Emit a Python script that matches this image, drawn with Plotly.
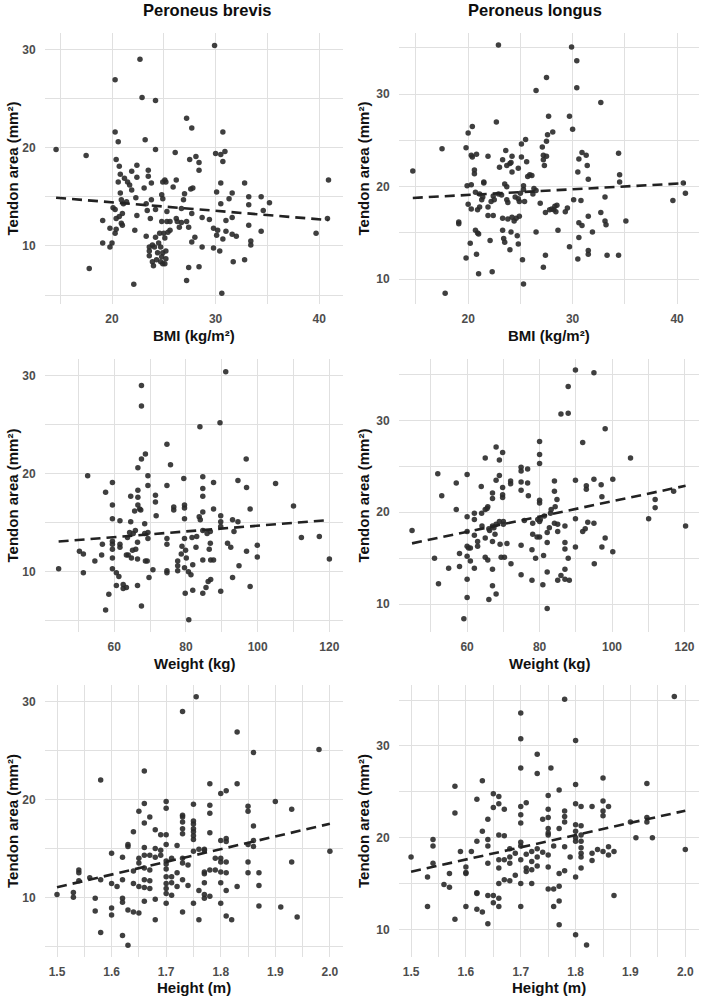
import numpy as np
import plotly.graph_objects as go

# ---------------- data (x, tendon area mm²) ----------------
bmi_brevis = [(14.6,19.8),(17.5,19.2),(17.8,7.7),(19.1,12.6),(19.1,10.3),(19.8,11.8),(19.8,9.9),(20.0,10.3),(20.3,26.9),(20.3,21.6),(20.4,18.8),(20.6,20.6),(20.1,13.9),(20.3,13.7),(20.4,12.8),(20.3,11.3),(20.4,11.7),(20.6,16.5),(20.7,18.1),(20.8,17.3),(20.8,15.4),(20.9,14.7),(21.0,13.3),(20.7,13.0),(20.9,12.3),(21.0,12.1),(21.2,16.9),(21.1,14.3),(21.4,14.5),(21.5,16.5),(21.7,16.2),(21.9,17.6),(21.9,15.7),(22.1,6.1),(22.2,11.6),(22.3,14.9),(22.4,18.2),(22.4,17.0),(22.4,13.1),(22.7,29.0),(22.9,25.1),(23.2,20.8),(23.1,15.9),(23.3,11.0),(23.3,14.3),(23.4,13.6),(23.5,17.7),(23.5,17.1),(23.6,9.9),(23.6,9.0),(23.6,9.5),(23.7,12.8),(23.8,14.7),(23.8,16.4),(23.9,8.4),(24.0,8.0),(23.9,10.1),(24.1,9.9),(24.2,19.8),(24.2,24.8),(24.2,13.7),(24.2,10.9),(24.3,8.6),(24.4,9.3),(24.5,10.3),(24.6,11.3),(24.7,9.9),(24.8,8.9),(24.7,8.4),(24.9,8.2),(24.9,9.3),(24.8,15.2),(24.9,14.8),(24.8,12.5),(24.9,16.5),(25.1,16.7),(25.2,16.5),(25.0,11.3),(25.1,10.8),(25.1,8.2),(25.2,8.7),(25.2,9.5),(25.3,13.5),(25.3,12.5),(25.4,11.4),(25.6,12.5),(25.6,11.6),(25.9,16.0),(26.1,19.5),(26.2,16.7),(26.2,12.8),(26.3,12.5),(26.5,11.9),(26.7,12.4),(26.7,13.8),(26.9,14.7),(27.0,15.3),(27.2,23.0),(27.2,12.5),(27.2,6.5),(27.4,7.8),(27.4,11.9),(27.5,18.8),(27.7,22.0),(27.6,15.8),(27.7,13.3),(27.7,10.4),(27.8,15.9),(28.0,10.9),(28.1,19.1),(28.4,18.5),(28.4,17.7),(28.4,7.9),(28.7,12.9),(28.7,9.9),(29.4,12.7),(29.8,11.8),(29.8,9.8),(29.9,30.4),(30.0,19.4),(30.1,15.5),(30.1,11.1),(30.2,11.6),(30.4,9.5),(30.5,16.4),(30.5,14.3),(30.5,19.3),(30.6,5.2),(30.7,21.6),(30.7,18.6),(30.7,10.7),(30.9,19.6),(31.0,12.6),(31.0,11.5),(31.3,14.8),(31.6,15.4),(31.6,12.9),(31.6,11.2),(31.7,8.4),(32.0,11.0),(32.8,16.4),(32.8,8.6),(33.2,15.0),(33.2,14.2),(33.2,12.1),(33.4,10.5),(33.4,10.1),(34.4,15.0),(34.4,11.5),(34.6,13.6),(35.2,14.4),(39.7,11.3),(40.9,16.7),(40.8,12.8)]

bmi_longus = [(14.7,21.7),(17.5,24.1),(17.8,8.5),(19.1,16.2),(19.1,16.0),(19.8,12.3),(19.8,24.2),(20.0,25.8),(19.9,20.1),(20.0,18.1),(20.2,13.9),(20.3,20.2),(20.4,26.5),(20.3,23.4),(20.4,23.2),(20.3,17.6),(20.6,21.8),(20.6,21.4),(20.7,19.4),(20.7,15.3),(20.8,23.5),(20.8,12.7),(20.9,15.0),(21.0,14.9),(20.9,17.5),(21.0,10.6),(21.1,17.8),(21.1,19.2),(21.3,18.6),(21.4,18.9),(21.5,20.5),(21.5,20.4),(21.9,16.9),(21.9,23.3),(21.9,17.8),(22.1,14.2),(22.2,18.4),(22.3,10.8),(22.4,16.9),(22.4,19.0),(22.5,18.6),(22.7,27.0),(22.9,35.3),(22.9,19.2),(23.0,22.1),(23.2,19.1),(23.3,22.9),(23.3,16.6),(23.3,15.3),(23.4,14.4),(23.5,14.0),(23.5,20.3),(23.6,23.9),(23.7,22.3),(23.7,18.6),(23.7,20.0),(23.8,16.5),(23.8,18.3),(24.0,13.2),(24.0,22.5),(24.1,22.6),(24.1,15.1),(24.2,23.3),(24.2,21.6),(24.2,16.7),(24.4,16.3),(24.5,18.9),(24.6,16.6),(24.7,14.7),(24.8,13.8),(24.8,22.0),(24.8,18.7),(24.9,18.4),(24.9,16.8),(25.0,19.3),(25.1,24.6),(25.1,23.2),(25.2,12.1),(25.3,9.5),(25.3,20.1),(25.3,19.7),(25.4,18.4),(25.5,25.1),(25.6,22.7),(25.7,21.1),(25.9,21.3),(26.1,21.2),(26.2,19.2),(26.3,19.8),(26.5,30.4),(26.5,19.6),(26.5,15.1),(26.9,18.2),(27.1,24.3),(27.2,23.4),(27.2,22.9),(27.3,22.3),(27.2,11.3),(27.4,17.2),(27.4,12.6),(27.5,24.9),(27.5,23.3),(27.5,31.8),(27.6,25.6),(27.7,27.6),(27.8,17.5),(28.0,17.6),(28.1,25.9),(28.2,17.5),(28.3,17.9),(28.4,17.3),(28.5,18.0),(28.6,15.3),(29.3,17.3),(29.5,17.7),(29.7,13.5),(29.7,27.6),(29.9,35.1),(30.0,26.2),(30.1,18.6),(30.4,33.6),(30.4,30.7),(30.5,12.2),(30.5,21.6),(30.6,23.0),(30.6,16.1),(30.6,14.5),(30.8,18.5),(30.9,15.8),(30.9,23.7),(31.3,23.4),(31.4,22.3),(31.5,20.8),(31.5,16.8),(31.5,13.1),(31.5,12.7),(31.9,15.1),(32.7,29.1),(32.7,17.2),(33.1,18.9),(33.1,16.3),(33.2,15.9),(33.3,12.6),(34.4,23.6),(34.4,12.6),(34.5,21.3),(34.5,20.5),(35.1,16.3),(39.6,18.5),(40.6,20.4),(40.8,19.3)]

weight_brevis = [(44.5,10.3),(50.3,12.1),(51.4,11.8),(51.4,9.9),(52.6,19.8),(54.6,11.1),(56.5,11.7),(56.7,12.8),(57.6,18.1),(57.6,6.1),(58.5,7.7),(59.5,19.1),(59.5,16.8),(59.5,15.4),(59.5,13.1),(59.5,12.8),(59.5,12.3),(59.5,11.4),(59.5,10.3),(60.6,9.9),(60.6,8.6),(61.3,9.5),(61.6,15.2),(61.6,12.5),(61.6,12.8),(62.5,8.7),(62.5,8.3),(63.4,8.4),(63.4,11.7),(63.7,13.5),(63.9,11.7),(64.3,14.0),(64.6,17.7),(64.6,15.1),(64.8,11.4),(65.1,12.2),(65.3,13.9),(65.7,16.2),(65.9,14.2),(66.0,12.3),(66.5,13.0),(66.5,8.6),(66.5,11.3),(66.6,20.6),(66.6,18.3),(66.6,17.6),(66.6,16.8),(67.1,16.4),(67.4,16.3),(67.6,29.0),(67.6,26.9),(67.6,21.5),(67.6,6.5),(68.7,22.0),(68.5,14.9),(68.5,13.9),(68.7,11.1),(69.2,11.1),(69.4,19.8),(69.4,18.8),(69.4,14.0),(69.4,13.4),(69.7,9.4),(70.8,10.2),(71.5,17.8),(71.5,17.1),(71.7,15.7),(74.7,23.0),(74.7,18.8),(74.7,13.4),(74.7,12.8),(74.7,10.1),(74.7,9.9),(75.7,20.9),(76.6,16.6),(76.6,16.3),(77.7,11.1),(77.7,10.6),(77.7,10.1),(78.7,11.8),(78.9,12.6),(79.4,19.5),(79.6,16.8),(79.6,16.5),(79.6,15.4),(79.6,13.4),(79.6,10.4),(79.8,7.8),(79.9,12.2),(80.1,11.4),(80.7,10.0),(80.8,5.1),(81.4,9.7),(81.7,13.5),(81.9,10.7),(81.9,8.1),(82.8,12.5),(83.0,13.6),(83.7,15.6),(83.9,24.8),(84.0,15.3),(84.7,14.2),(84.7,11.2),(84.7,7.8),(84.7,19.7),(84.7,18.5),(84.7,17.7),(84.7,16.1),(85.6,8.4),(85.9,13.9),(86.2,9.0),(86.5,12.3),(86.8,14.1),(86.8,12.9),(86.9,11.2),(86.9,9.2),(87.7,19.1),(87.7,16.4),(87.7,11.2),(89.5,25.2),(89.7,15.7),(89.7,15.1),(89.7,14.6),(89.7,8.0),(91.1,30.4),(91.6,12.9),(92.5,12.5),(93.0,15.3),(93.0,9.4),(93.4,14.1),(94.5,19.3),(94.5,15.1),(94.8,10.6),(96.8,21.5),(96.9,18.6),(96.9,12.1),(97.9,16.4),(97.9,8.5),(99.9,12.7),(99.9,11.5),(105.0,19.0),(110.0,16.7),(112.2,13.5),(117.2,13.6),(120.0,11.3)]

weight_longus = [(44.8,18.0),(51.0,15.0),(51.9,24.2),(52.1,12.2),(53.0,21.8),(54.9,13.9),(57.0,23.2),(57.0,20.3),(57.9,15.5),(57.9,14.1),(59.1,8.4),(60.0,24.1),(60.0,19.5),(60.0,17.9),(60.0,16.3),(60.0,15.2),(60.0,12.7),(60.0,10.7),(60.4,16.1),(60.9,16.1),(60.9,14.7),(62.0,19.9),(62.0,19.2),(62.0,17.5),(62.0,13.9),(62.9,16.8),(62.9,16.3),(63.9,22.8),(64.0,19.9),(64.1,18.5),(65.0,25.9),(65.0,20.3),(65.0,17.2),(65.0,15.1),(65.5,20.4),(65.7,20.6),(65.7,14.8),(66.0,10.5),(66.0,18.2),(66.2,18.0),(67.0,22.1),(67.0,21.5),(67.0,18.5),(67.0,16.8),(67.0,13.8),(67.0,12.0),(67.4,18.3),(67.7,17.6),(68.0,27.1),(68.0,23.5),(68.0,11.1),(68.0,18.7),(68.9,25.7),(68.9,24.0),(68.9,19.0),(69.1,16.5),(69.4,15.1),(69.8,26.5),(69.8,22.7),(69.8,21.9),(69.8,21.6),(70.0,19.0),(70.0,18.7),(70.3,15.1),(71.0,16.6),(72.0,23.4),(72.0,23.1),(72.1,14.4),(74.9,24.9),(74.9,24.5),(74.9,23.3),(74.9,22.4),(74.9,16.4),(74.9,13.2),(75.8,19.1),(76.7,24.7),(76.7,23.2),(76.9,21.8),(77.9,15.9),(77.9,12.6),(78.1,17.6),(78.1,18.8),(78.9,15.0),(79.3,17.3),(79.5,19.2),(80.0,27.7),(80.0,26.3),(80.0,25.3),(80.0,21.3),(80.0,21.0),(80.0,19.0),(80.0,17.3),(80.2,19.2),(80.9,12.1),(81.1,15.3),(81.3,19.6),(82.1,9.5),(82.1,16.7),(82.1,17.8),(82.1,13.5),(82.7,18.3),(83.0,19.9),(83.2,20.3),(84.1,23.4),(84.1,22.3),(84.1,18.8),(84.3,20.6),(84.8,21.4),(85.0,18.7),(85.0,17.9),(85.0,12.6),(85.9,13.1),(85.9,30.7),(87.0,16.7),(87.0,16.0),(87.0,13.8),(87.0,12.7),(87.0,18.5),(87.9,30.8),(87.9,33.7),(87.9,15.0),(88.2,12.6),(89.9,35.5),(89.9,23.5),(89.9,19.3),(89.9,16.2),(91.9,27.6),(91.9,17.9),(92.6,18.2),(92.9,22.9),(92.9,22.5),(93.3,18.9),(95.0,35.2),(95.0,23.6),(95.0,18.8),(95.1,14.4),(97.0,23.0),(97.2,21.7),(97.2,16.2),(98.1,17.2),(98.1,29.1),(100.2,23.6),(100.2,15.7),(105.1,25.9),(110.1,19.3),(111.9,21.4),(111.9,20.5),(117.0,22.3),(120.3,18.5)]

height_brevis = [(1.50,10.3),(1.53,10.5),(1.53,10.0),(1.54,12.8),(1.54,12.5),(1.54,11.7),(1.56,12.0),(1.57,9.9),(1.57,8.6),(1.58,22.0),(1.58,11.8),(1.58,6.4),(1.60,14.5),(1.60,11.4),(1.60,8.9),(1.60,8.2),(1.61,11.1),(1.62,14.1),(1.62,11.8),(1.62,9.9),(1.62,9.5),(1.62,6.1),(1.63,15.4),(1.63,8.7),(1.63,5.1),(1.63,15.2),(1.64,16.7),(1.64,12.7),(1.64,11.4),(1.64,8.5),(1.65,18.8),(1.65,14.0),(1.65,13.5),(1.65,11.1),(1.65,8.4),(1.66,22.9),(1.66,19.6),(1.66,17.6),(1.66,15.1),(1.66,14.3),(1.66,13.0),(1.66,11.8),(1.66,11.0),(1.66,9.6),(1.67,18.2),(1.67,14.3),(1.67,12.8),(1.67,11.7),(1.67,10.9),(1.68,16.9),(1.68,15.0),(1.68,14.1),(1.68,9.8),(1.68,7.7),(1.69,16.4),(1.69,14.3),(1.69,14.8),(1.70,19.8),(1.70,19.1),(1.70,16.4),(1.70,15.4),(1.70,13.7),(1.70,13.4),(1.70,12.9),(1.70,12.1),(1.70,11.4),(1.70,10.9),(1.70,10.4),(1.70,9.4),(1.71,12.1),(1.71,11.5),(1.71,10.2),(1.71,14.0),(1.72,15.3),(1.72,12.5),(1.72,11.1),(1.73,11.8),(1.73,29.0),(1.73,18.4),(1.73,18.2),(1.73,17.7),(1.73,17.0),(1.73,16.5),(1.73,14.0),(1.73,13.5),(1.73,8.5),(1.74,13.3),(1.74,11.2),(1.75,19.5),(1.75,17.8),(1.75,17.5),(1.75,17.0),(1.75,16.7),(1.75,16.3),(1.75,15.9),(1.75,14.7),(1.75,9.4),(1.755,30.5),(1.76,10.7),(1.76,7.7),(1.76,14.9),(1.77,14.8),(1.77,12.6),(1.77,12.4),(1.77,11.5),(1.77,10.3),(1.77,9.9),(1.77,14.9),(1.78,21.6),(1.78,19.4),(1.78,18.6),(1.78,16.6),(1.78,12.8),(1.78,10.1),(1.79,14.0),(1.79,12.8),(1.80,20.6),(1.80,15.8),(1.80,14.0),(1.80,13.6),(1.80,12.6),(1.80,11.5),(1.80,9.4),(1.81,20.9),(1.81,16.0),(1.81,15.7),(1.81,13.6),(1.81,12.5),(1.81,10.7),(1.81,8.1),(1.82,7.7),(1.83,26.9),(1.83,21.6),(1.83,11.1),(1.85,19.3),(1.85,18.8),(1.85,13.6),(1.85,12.5),(1.85,15.4),(1.86,24.8),(1.86,17.3),(1.86,15.8),(1.86,15.2),(1.87,12.5),(1.87,11.2),(1.87,9.1),(1.90,19.8),(1.91,9.0),(1.93,19.0),(1.93,13.6),(1.94,8.0),(1.98,25.1),(2.00,14.7)]

height_longus = [(1.50,17.9),(1.53,15.7),(1.53,12.5),(1.54,19.8),(1.54,19.1),(1.54,17.2),(1.56,14.9),(1.57,14.6),(1.57,16.1),(1.58,25.6),(1.58,22.7),(1.58,11.1),(1.59,18.5),(1.60,16.8),(1.60,16.2),(1.60,16.1),(1.60,12.5),(1.61,18.5),(1.62,24.2),(1.62,19.6),(1.62,14.0),(1.62,13.9),(1.62,12.2),(1.63,26.2),(1.63,20.7),(1.63,11.9),(1.64,22.0),(1.64,19.8),(1.64,19.1),(1.64,17.2),(1.64,13.7),(1.64,10.6),(1.65,24.8),(1.65,23.3),(1.65,13.7),(1.65,12.9),(1.66,24.5),(1.66,23.7),(1.66,20.3),(1.66,17.6),(1.66,16.7),(1.66,15.0),(1.66,13.4),(1.66,12.5),(1.67,20.2),(1.67,17.6),(1.67,23.1),(1.67,15.4),(1.68,18.8),(1.68,17.9),(1.68,17.2),(1.68,15.3),(1.69,18.3),(1.69,15.9),(1.70,23.4),(1.70,33.6),(1.70,30.8),(1.70,27.6),(1.70,22.5),(1.70,21.6),(1.70,19.5),(1.70,19.1),(1.70,17.6),(1.70,15.0),(1.70,12.5),(1.71,23.8),(1.71,18.2),(1.71,16.7),(1.71,16.3),(1.72,18.5),(1.72,17.4),(1.72,16.5),(1.72,15.0),(1.73,29.1),(1.73,27.0),(1.73,18.8),(1.73,17.9),(1.73,16.9),(1.74,22.0),(1.74,18.4),(1.75,24.6),(1.75,23.1),(1.75,22.2),(1.75,21.0),(1.75,20.5),(1.75,20.3),(1.75,18.1),(1.75,16.8),(1.75,14.4),(1.755,27.6),(1.76,19.1),(1.76,14.4),(1.76,12.5),(1.77,25.2),(1.77,21.0),(1.77,16.1),(1.77,14.7),(1.77,13.1),(1.77,10.5),(1.78,35.1),(1.78,22.9),(1.78,22.3),(1.78,21.7),(1.78,19.0),(1.78,16.4),(1.79,17.9),(1.80,30.6),(1.80,25.8),(1.80,23.7),(1.80,21.4),(1.80,20.7),(1.80,20.0),(1.80,19.6),(1.80,15.7),(1.80,9.4),(1.81,23.4),(1.81,21.3),(1.81,20.3),(1.81,19.6),(1.81,18.9),(1.81,18.3),(1.81,17.9),(1.81,16.7),(1.82,8.3),(1.83,23.4),(1.83,18.3),(1.83,17.5),(1.84,18.7),(1.85,26.5),(1.85,24.0),(1.85,22.9),(1.85,22.4),(1.85,18.5),(1.86,23.4),(1.86,19.0),(1.86,18.1),(1.87,18.5),(1.87,13.7),(1.90,21.7),(1.91,20.0),(1.93,25.9),(1.93,22.2),(1.93,21.7),(1.94,20.0),(1.98,35.4),(2.00,18.7)]

column_titles = ["Peroneus brevis", "Peroneus longus"]
x_titles = ["BMI (kg/m²)", "Weight (kg)", "Height (m)"]
y_title = "Tendon area (mm²)"

# ---------------- layout geometry (pixels) ----------------
W, H = 702, 999
col_px = [(45, 343), (399, 699)]
row_px = [(33, 304), (359, 632), (685, 957)]
xt_y = [336, 663, 987]           # x-axis title centres
yt_x = [12, 363]                 # y-axis title centres

panels = [
    # data, row, col, xrange, yrange, xdtick, xminor, yminor, xfmt
    (bmi_brevis, 0, 0, [13.53, 42.3], [4.1, 31.66], 10, 5, 5, None),
    (bmi_longus, 0, 1, [13.38, 42.1], [7.33, 36.6], 10, 5, 5, None),
    (weight_brevis, 1, 0, [40.7, 123.8], [3.85, 31.7], 20, 10, 5, None),
    (weight_longus, 1, 1, [41.2, 124.0], [6.95, 36.7], 20, 10, 5, None),
    (height_brevis, 2, 0, [1.478, 2.024], [3.9, 31.7], 0.1, 0.05, 5, ".1f"),
    (height_longus, 2, 1, [1.478, 2.025], [6.98, 36.65], 0.1, 0.05, 5, ".1f"),
]

FONT = "Liberation Sans, Arial, sans-serif"
GRID = "#e0e0e0"
tickfont = dict(family=FONT, size=12, color="#4d4d4d", weight="bold")

fig = go.Figure()
layout = {}
for i, (data, r, c, xr, yr, xd, xm, ym, xfmt) in enumerate(panels):
    n = "" if i == 0 else str(i + 1)
    xs = np.array([p[0] for p in data])
    ys = np.array([p[1] for p in data])
    fig.add_trace(go.Scatter(
        x=xs, y=ys, mode="markers", xaxis="x" + n, yaxis="y" + n,
        marker=dict(size=5.5, color="#2a2a2a", opacity=0.9, line=dict(width=0)),
        showlegend=False, hoverinfo="skip"))
    slope, intercept = np.polyfit(xs, ys, 1)
    lx = np.array([xs.min(), xs.max()])
    fig.add_trace(go.Scatter(
        x=lx, y=slope * lx + intercept, mode="lines", xaxis="x" + n, yaxis="y" + n,
        line=dict(color="#222222", width=2.6, dash="10px,6px"),
        showlegend=False, hoverinfo="skip"))
    x0, x1 = col_px[c]
    y0, y1 = row_px[r]
    layout["xaxis" + n] = dict(
        domain=[x0 / W, x1 / W], anchor="y" + n, range=xr,
        tick0=0, dtick=xd, tickformat=xfmt, showgrid=True, gridcolor=GRID, gridwidth=1.3,
        minor=dict(dtick=xm, tick0=0, showgrid=True, gridcolor=GRID, gridwidth=1.1),
        zeroline=False, showline=False, ticks="outside", ticklen=4,
        tickcolor="rgba(0,0,0,0)", tickfont=tickfont)
    layout["yaxis" + n] = dict(
        domain=[1 - y1 / H, 1 - y0 / H], anchor="x" + n, range=yr,
        tick0=0, dtick=10, showgrid=True, gridcolor=GRID, gridwidth=1.3,
        minor=dict(dtick=ym, tick0=0, showgrid=True, gridcolor=GRID, gridwidth=1.1),
        zeroline=False, showline=False, ticks="outside", ticklen=6,
        tickcolor="rgba(0,0,0,0)", tickfont=tickfont)

annotations = []
title_x = [207, 535]
for c, t in enumerate(column_titles):
    annotations.append(dict(text=t, x=title_x[c] / W, y=1 - 10 / H, xref="paper", yref="paper",
                            showarrow=False, xanchor="center", yanchor="middle",
                            font=dict(family=FONT, size=16.5, color="#0d0d0d", weight="bold")))
for r in range(3):
    y0, y1 = row_px[r]
    for c in range(2):
        x0, x1 = col_px[c]
        annotations.append(dict(text=x_titles[r], x=(x0 + x1) / 2 / W, y=1 - xt_y[r] / H,
                                xref="paper", yref="paper", showarrow=False,
                                xanchor="center", yanchor="middle",
                                font=dict(family=FONT, size=15, color="#111111", weight="bold")))
        annotations.append(dict(text=y_title, x=yt_x[c] / W, y=1 - (y0 + y1) / 2 / H,
                                xref="paper", yref="paper", showarrow=False, textangle=-90,
                                xanchor="center", yanchor="middle",
                                font=dict(family=FONT, size=15, color="#111111", weight="bold")))

fig.update_layout(
    width=W, height=H, margin=dict(l=0, r=0, t=0, b=0),
    paper_bgcolor="white", plot_bgcolor="white",
    annotations=annotations, **layout)

fig.write_html("out.html")
